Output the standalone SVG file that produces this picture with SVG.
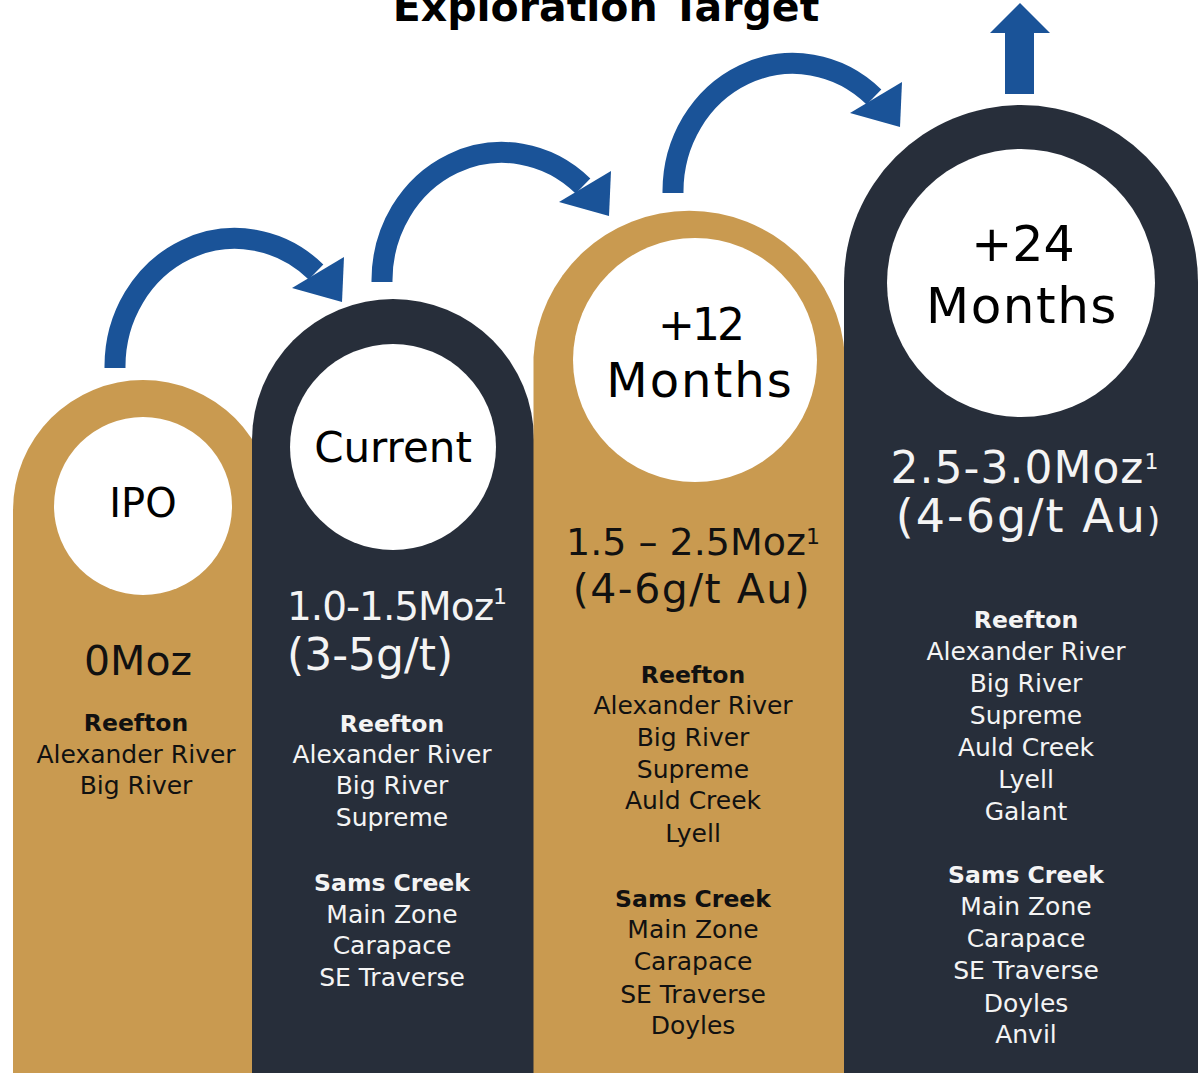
<svg xmlns="http://www.w3.org/2000/svg" width="1200" height="1073" viewBox="0 0 1200 1073">
<style>
  .gold { fill: #C99A50; }
  .dark { fill: #272E3A; }
  .hole { fill: #FFFFFF; }
  .arrow { fill: #1A5398; }
  .arc { fill: none; stroke: #1A5398; stroke-width: 21; stroke-linecap: butt; }
  text { font-family: "DejaVu Sans", "Liberation Sans", sans-serif; text-anchor: middle; }
  .blk { fill: #111111; }
  .wht { fill: #F4F4F4; }
  .item { font-size: 25px; }
  .head { font-size: 23.5px; font-weight: bold; }
  .circ { font-size: 42px; fill: #000000; }
</style>
<defs>
  <g id="curveArrow">
    <path class="arc" d="M 115 368 A 120 128 0 0 1 316 272"/>
    <polygon class="arrow" points="342,302 344,257 292,288"/>
  </g>
</defs>

<g id="title">
  <text x="606" y="21" style="font-size:41px;font-weight:bold;" fill="#000">Exploration Target</text>
</g>

<g id="col-ipo">
  <path class="gold" d="M13 1073 V510 A130 130 0 0 1 273 510 V1073 Z"/>
  <circle class="hole" cx="143" cy="506" r="89"/>
  <text class="circ" x="143" y="517" style="font-size:40px">IPO</text>
  <text class="blk" x="138" y="675" style="font-size:41px">0Moz</text>
  <text class="blk head" x="136" y="731">Reefton</text>
  <text class="blk item" x="136" y="763">Alexander River</text>
  <text class="blk item" x="136" y="794">Big River</text>
</g>

<g id="col-current">
  <path class="dark" d="M252 1073 V440 A141 141 0 0 1 534 440 V1073 Z"/>
  <circle class="hole" cx="393" cy="447" r="103"/>
  <text class="circ" x="393" y="462">Current</text>
  <text class="wht" x="287" y="620" style="font-size:39px;text-anchor:start;letter-spacing:-1px">1.0-1.5Moz<tspan style="font-size:22px" dy="-16">1</tspan></text>
  <text class="wht" x="287" y="670" style="font-size:44px;text-anchor:start">(3-5g/t)</text>
  <text class="wht head" x="392" y="732">Reefton</text>
  <text class="wht item" x="392" y="763">Alexander River</text>
  <text class="wht item" x="392" y="794">Big River</text>
  <text class="wht item" x="392" y="826">Supreme</text>
  <text class="wht head" x="392" y="891">Sams Creek</text>
  <text class="wht item" x="392" y="923">Main Zone</text>
  <text class="wht item" x="392" y="954">Carapace</text>
  <text class="wht item" x="392" y="986">SE Traverse</text>
</g>

<g id="col-12-months">
  <path class="gold" d="M533.5 1073 V357 A156 155 0 0 1 845 357 V1073 Z"/>
  <circle class="hole" cx="695" cy="360" r="122"/>
  <text class="circ" x="700" y="340" style="font-size:44px;letter-spacing:-3px">+12</text>
  <text class="circ" x="700" y="397" style="font-size:48px;letter-spacing:2px">Months</text>
  <text class="blk" x="693" y="555" style="font-size:38px">1.5 – 2.5Moz<tspan style="font-size:22px" dy="-11">1</tspan></text>
  <text class="blk" x="692" y="603" style="font-size:41px;letter-spacing:1.5px">(4-6g/t Au)</text>
  <text class="blk head" x="693" y="683">Reefton</text>
  <text class="blk item" x="693" y="714">Alexander River</text>
  <text class="blk item" x="693" y="746">Big River</text>
  <text class="blk item" x="693" y="778">Supreme</text>
  <text class="blk item" x="693" y="809">Auld Creek</text>
  <text class="blk item" x="693" y="842">Lyell</text>
  <text class="blk head" x="693" y="907">Sams Creek</text>
  <text class="blk item" x="693" y="938">Main Zone</text>
  <text class="blk item" x="693" y="970">Carapace</text>
  <text class="blk item" x="693" y="1003">SE Traverse</text>
  <text class="blk item" x="693" y="1034">Doyles</text>
</g>

<g id="col-24-months">
  <path class="dark" d="M844 1073 V282 A177 177 0 0 1 1198 282 V1073 Z"/>
  <circle class="hole" cx="1021" cy="283" r="134"/>
  <text class="circ" x="1023" y="261" style="font-size:49px">+24</text>
  <text class="circ" x="1022" y="323" style="font-size:50px;letter-spacing:1.5px">Months</text>
  <text class="wht" x="1025" y="483" style="font-size:44px;letter-spacing:1px">2.5-3.0Moz<tspan style="font-size:22px" dy="-14">1</tspan></text>
  <text class="wht" x="1029" y="532" style="font-size:46px;letter-spacing:2px">(4-6g/t Au<tspan style="font-size:34px">)</tspan></text>
  <text class="wht head" x="1026" y="628">Reefton</text>
  <text class="wht item" x="1026" y="660">Alexander River</text>
  <text class="wht item" x="1026" y="692">Big River</text>
  <text class="wht item" x="1026" y="724">Supreme</text>
  <text class="wht item" x="1026" y="756">Auld Creek</text>
  <text class="wht item" x="1026" y="788">Lyell</text>
  <text class="wht item" x="1026" y="820">Galant</text>
  <text class="wht head" x="1026" y="883">Sams Creek</text>
  <text class="wht item" x="1026" y="915">Main Zone</text>
  <text class="wht item" x="1026" y="947">Carapace</text>
  <text class="wht item" x="1026" y="979">SE Traverse</text>
  <text class="wht item" x="1026" y="1012">Doyles</text>
  <text class="wht item" x="1026" y="1043">Anvil</text>
</g>

<g id="connectors">
  <use href="#curveArrow"/>
  <use href="#curveArrow" transform="translate(267,-86)"/>
  <use href="#curveArrow" transform="translate(558,-175)"/>
  <polygon class="arrow" points="1020,3 1050,33 1034,33 1034,94 1005,94 1005,33 990,33"/>
</g>
</svg>
